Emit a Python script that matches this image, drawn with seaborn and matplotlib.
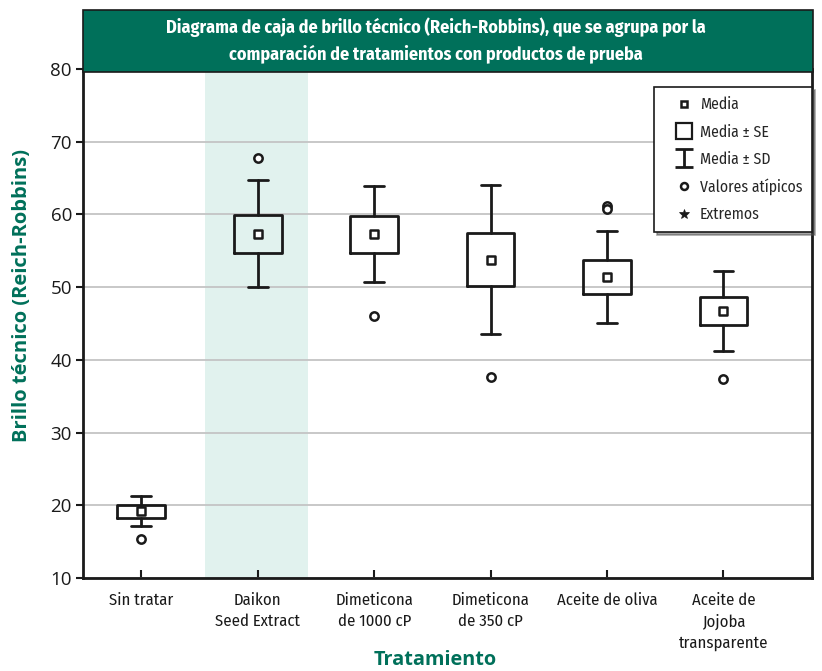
import numpy as np
import pandas as pd
import matplotlib
matplotlib.use("Agg")
import matplotlib.pyplot as plt
import seaborn as sns
from matplotlib.path import Path
from matplotlib.lines import Line2D
from matplotlib.patches import Rectangle
from matplotlib import font_manager as fm

# ---------------- data ----------------
categories = ["Sin tratar", "Daikon\nSeed Extract", "Dimeticona\nde 1000 cP",
              "Dimeticona\nde 350 cP", "Aceite de oliva", "Aceite de\nJojoba\ntransparente"]
means = [19.2, 57.35, 57.25, 53.8, 51.4, 46.7]
se = [0.9, 2.6, 2.55, 3.6, 2.3, 1.9]
sd = [2.1, 7.35, 6.6, 10.25, 6.35, 5.5]
outliers = [[15.3], [67.7], [46.1], [37.6], [61.2, 60.7], [37.3]]
y_ticks = [10, 20, 30, 40, 50, 60, 70, 80]

title = ("Diagrama de caja de brillo técnico (Reich-Robbins), que se agrupa por la\n"
         "comparación de tratamientos con productos de prueba")
legend_labels = ["Media", "Media ± SE", "Media ± SD", "Valores atípicos", "Extremos"]

GREEN = "#00705a"
BAND = "#e1f2ee"

sns.set_theme(style="white")
plt.rcParams["font.family"] = ["Open Sans", "DejaVu Sans"]

installed = {f.name for f in fm.fontManager.ttflist}
narrow_choice = next((n for n in ["Fira Sans Condensed", "PT Sans Narrow",
                                  "Roboto Condensed", "Open Sans Condensed"]
                      if n in installed), None)
if narrow_choice:
    NARROW = dict(family=[narrow_choice, "DejaVu Sans"])
else:
    NARROW = dict(family="DejaVu Sans", stretch="condensed")

fig = plt.figure(figsize=(8.22, 6.71), dpi=100)
W, H = 822, 671
ax = fig.add_axes([83 / W, 1 - 578 / H, (812 - 83) / W, (578 - 69) / H])

pos = np.arange(len(categories))

ax.axvspan(0.55, 1.43, color=BAND, zorder=0, lw=0)

stats = []
for m, s_e, s_d in zip(means, se, sd):
    stats.append(dict(med=m, q1=m - s_e, q3=m + s_e, whislo=m - s_d, whishi=m + s_d,
                      mean=m, fliers=[]))
ax.bxp(stats, positions=pos, widths=0.41, capwidths=0.17, showfliers=False,
       showmeans=False, patch_artist=False,
       boxprops=dict(color="#1a1a1a", lw=2.0),
       whiskerprops=dict(color="#1a1a1a", lw=2.0),
       capprops=dict(color="#1a1a1a", lw=2.0),
       medianprops=dict(lw=0, alpha=0))

mean_df = pd.DataFrame({"x": pos, "y": means})
sns.scatterplot(data=mean_df, x="x", y="y", marker="s", s=32, color="white",
                edgecolor="#1a1a1a", linewidth=1.8, ax=ax, zorder=5, legend=False)

ox, oy = [], []
for i, vals in enumerate(outliers):
    for v in vals:
        ox.append(i)
        oy.append(v)
out_df = pd.DataFrame({"x": ox, "y": oy})
sns.scatterplot(data=out_df, x="x", y="y", marker="o", s=36, color="white",
                edgecolor="#1a1a1a", linewidth=1.8, ax=ax, zorder=5, legend=False)

ax.set_xlim(-0.5, 5.76)
ax.set_ylim(10, 80)
ax.set_yticks(y_ticks)
ax.set_xticks(pos)
ax.set_xticklabels(categories, fontsize=12, linespacing=1.42, color="#1a1a1a",
                   **NARROW)
ax.tick_params(axis="x", direction="in", length=6, width=1.5, color="#1a1a1a", pad=10,
               bottom=True)
ax.tick_params(axis="y", direction="out", length=5, width=1.5, color="#1a1a1a", pad=3,
               labelsize=13.5, left=True, labelcolor="#1a1a1a")
ax.yaxis.grid(True, color="#c4c4c4", lw=1.3)
ax.xaxis.grid(False)
ax.set_axisbelow(True)
ax.set_xlabel("")
ax.set_ylabel("")
for side in ["left", "bottom", "right"]:
    ax.spines[side].set_color("#1a1a1a")
    ax.spines[side].set_linewidth(2)
ax.spines["top"].set_visible(False)

fig.patches.append(Rectangle((83 / W, 1 - 72 / H), (813 - 83) / W, (72 - 10) / H,
                             transform=fig.transFigure, facecolor=GREEN,
                             edgecolor="#1a1a1a", lw=1.2, zorder=3))
fig.text(436 / W, 1 - 40 / H, title, ha="center", va="center", color="white",
         fontweight="bold", fontsize=13, linespacing=1.45, zorder=4, **NARROW)

fig.text(22 / W, 1 - 295 / H, "Brillo técnico (Reich-Robbins)", rotation=90,
         ha="center", va="center", color=GREEN, fontweight="bold", fontsize=14.5)
fig.text(435 / W, 1 - 660 / H, "Tratamiento", ha="center", va="center",
         color=GREEN, fontweight="bold", fontsize=14.3)

ibeam = Path([(-0.5, 0.5), (0.5, 0.5), (0, 0.5), (0, -0.5), (-0.5, -0.5), (0.5, -0.5)],
             [Path.MOVETO, Path.LINETO, Path.MOVETO, Path.LINETO, Path.MOVETO, Path.LINETO])
handles = [
    Line2D([], [], ls="none", marker="s", ms=4.5, mfc="white", mec="#1a1a1a", mew=1.8),
    Line2D([], [], ls="none", marker="s", ms=12, mfc="white", mec="#1a1a1a", mew=1.6),
    Line2D([], [], ls="none", marker=ibeam, ms=12.5, mfc="none", mec="#1a1a1a", mew=2),
    Line2D([], [], ls="none", marker="o", ms=5, mfc="white", mec="#1a1a1a", mew=1.8),
    Line2D([], [], ls="none", marker="*", ms=7.5, mfc="#1a1a1a", mec="#1a1a1a", mew=0.5),
]
leg = ax.legend(handles, legend_labels, loc="upper right", bbox_to_anchor=(1.0, 0.965),
                borderaxespad=0, frameon=True, fancybox=False, shadow=True,
                handlelength=2.6, handletextpad=-0.3, labelspacing=0.72,
                borderpad=0.62, prop=fm.FontProperties(size=11.3, **NARROW))
leg.get_frame().set_edgecolor("#1a1a1a")
leg.get_frame().set_linewidth(1.2)
leg.set_zorder(10)

fig.savefig("out.png", dpi=100)
